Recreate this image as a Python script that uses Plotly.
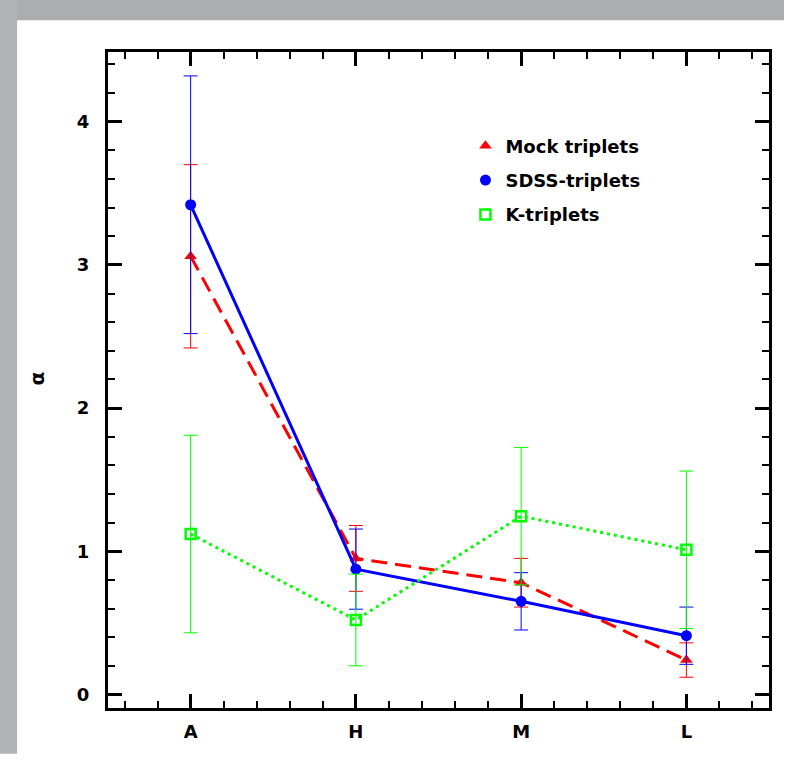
import plotly.graph_objects as go

categories = ["A", "H", "M", "L"]
xpos = [0, 1, 2, 3]

mock_vals = [3.06, 0.95, 0.78, 0.24]
mock_err = [0.64, 0.23, 0.17, 0.12]

sdss_vals = [3.42, 0.875, 0.65, 0.41]
sdss_err = [0.90, 0.28, 0.20, 0.20]

k_vals = [1.12, 0.52, 1.245, 1.01]
k_err = [0.69, 0.32, 0.48, 0.55]

series_names = ["Mock triplets", "SDSS-triplets", "K-triplets"]

# figure slightly smaller than the window so the page never overflows
W, H = 784, 754
PLOT_L, PLOT_R, PLOT_T, PLOT_B = 108, 770, 52, 713  # pixel edges of the frame
ML, MR, MT, MB = PLOT_L, W - PLOT_R, PLOT_T, H - PLOT_B
PW, PH = PLOT_R - PLOT_L, PLOT_B - PLOT_T

FONT = "DejaVu Sans"
GREY = "#abadb1"

fig = go.Figure()

fig.add_trace(go.Scatter(
    x=xpos, y=mock_vals, mode="lines+markers", showlegend=False,
    line=dict(color="#ff0000", width=3, dash="16px,8px"),
    marker=dict(symbol="triangle-up", size=11, color="#ff0000"),
    error_y=dict(type="data", array=mock_err, color="#ff0000", thickness=1, width=7),
))
fig.add_trace(go.Scatter(
    x=xpos, y=sdss_vals, mode="lines+markers", showlegend=False,
    line=dict(color="#0000ff", width=3),
    marker=dict(symbol="circle", size=11, color="#0000ff"),
    error_y=dict(type="data", array=sdss_err, color="#0000ff", thickness=1, width=7),
))
fig.add_trace(go.Scatter(
    x=xpos, y=k_vals, mode="lines+markers", showlegend=False,
    line=dict(color="#00ff00", width=3, dash="3px,4px"),
    marker=dict(symbol="square-open", size=10, color="#00ff00", line=dict(width=2.5)),
    error_y=dict(type="data", array=k_err, color="#00ff00", thickness=1, width=7),
))

# legend-only entries (markers only, as in the reference)
legend_styles = [
    dict(symbol="triangle-up", size=11, color="#ff0000"),
    dict(symbol="circle", size=11, color="#0000ff"),
    dict(symbol="square-open", size=10, color="#00ff00", line=dict(width=2.5)),
]
for i, (nm, mk) in enumerate(zip(series_names, legend_styles)):
    fig.add_trace(go.Scatter(x=[None], y=[None], mode="markers", name=nm,
                             marker=mk, legendgroup=f"g{i}"))


def px_to_paper_x(px):
    return (px - ML) / PW


def px_to_paper_y(py):
    return (PLOT_B - py) / PH


# grey strips along top and left of the white page
fig.add_shape(type="rect", xref="paper", yref="paper", layer="below",
              x0=px_to_paper_x(-5), x1=px_to_paper_x(W + 5),
              y0=px_to_paper_y(20), y1=px_to_paper_y(-5),
              fillcolor=GREY, line=dict(width=0))
fig.add_shape(type="rect", xref="paper", yref="paper", layer="below",
              x0=px_to_paper_x(-5), x1=px_to_paper_x(17),
              y0=px_to_paper_y(H + 5), y1=px_to_paper_y(-5),
              fillcolor="#b0b4b5", line=dict(width=0))

fig.add_annotation(text="α", xref="paper", yref="paper",
                   x=px_to_paper_x(36), y=px_to_paper_y(381),
                   xanchor="center", yanchor="middle",
                   showarrow=False, textangle=-90,
                   font=dict(family=FONT, size=20, color="black", weight="bold"))

axis_common = dict(
    showline=True, linecolor="black", linewidth=3, mirror="allticks",
    ticks="inside", ticklen=14, tickwidth=3, tickcolor="black",
    showgrid=False, zeroline=False,
    tickfont=dict(family=FONT, size=18, color="black", weight="bold"),
)

fig.update_xaxes(
    **axis_common,
    range=[-0.5, 3.5], tickvals=xpos, ticktext=categories,
    minor=dict(dtick=0.2, tick0=0, ticklen=7, tickwidth=2, ticks="inside",
               tickcolor="black", showgrid=False),
    ticklabelstandoff=5,
)
fig.update_yaxes(
    **axis_common,
    range=[-0.095, 4.487], tickvals=[0, 1, 2, 3, 4],
    minor=dict(dtick=0.2, tick0=0, ticklen=7, tickwidth=2, ticks="inside",
               tickcolor="black", showgrid=False),
    ticklabelstandoff=12,
)

fig.update_layout(
    width=W, height=H,
    margin=dict(l=ML, r=MR, t=MT, b=MB, pad=0),
    paper_bgcolor="white", plot_bgcolor="white",
    font=dict(family=FONT, color="black"),
    legend=dict(x=px_to_paper_x(466), y=px_to_paper_y(128),
                xanchor="left", yanchor="top",
                bgcolor="rgba(0,0,0,0)", borderwidth=0,
                tracegroupgap=8, itemwidth=30,
                font=dict(family=FONT, size=18, color="black", weight="bold")),
)

fig.write_html("out.html")
